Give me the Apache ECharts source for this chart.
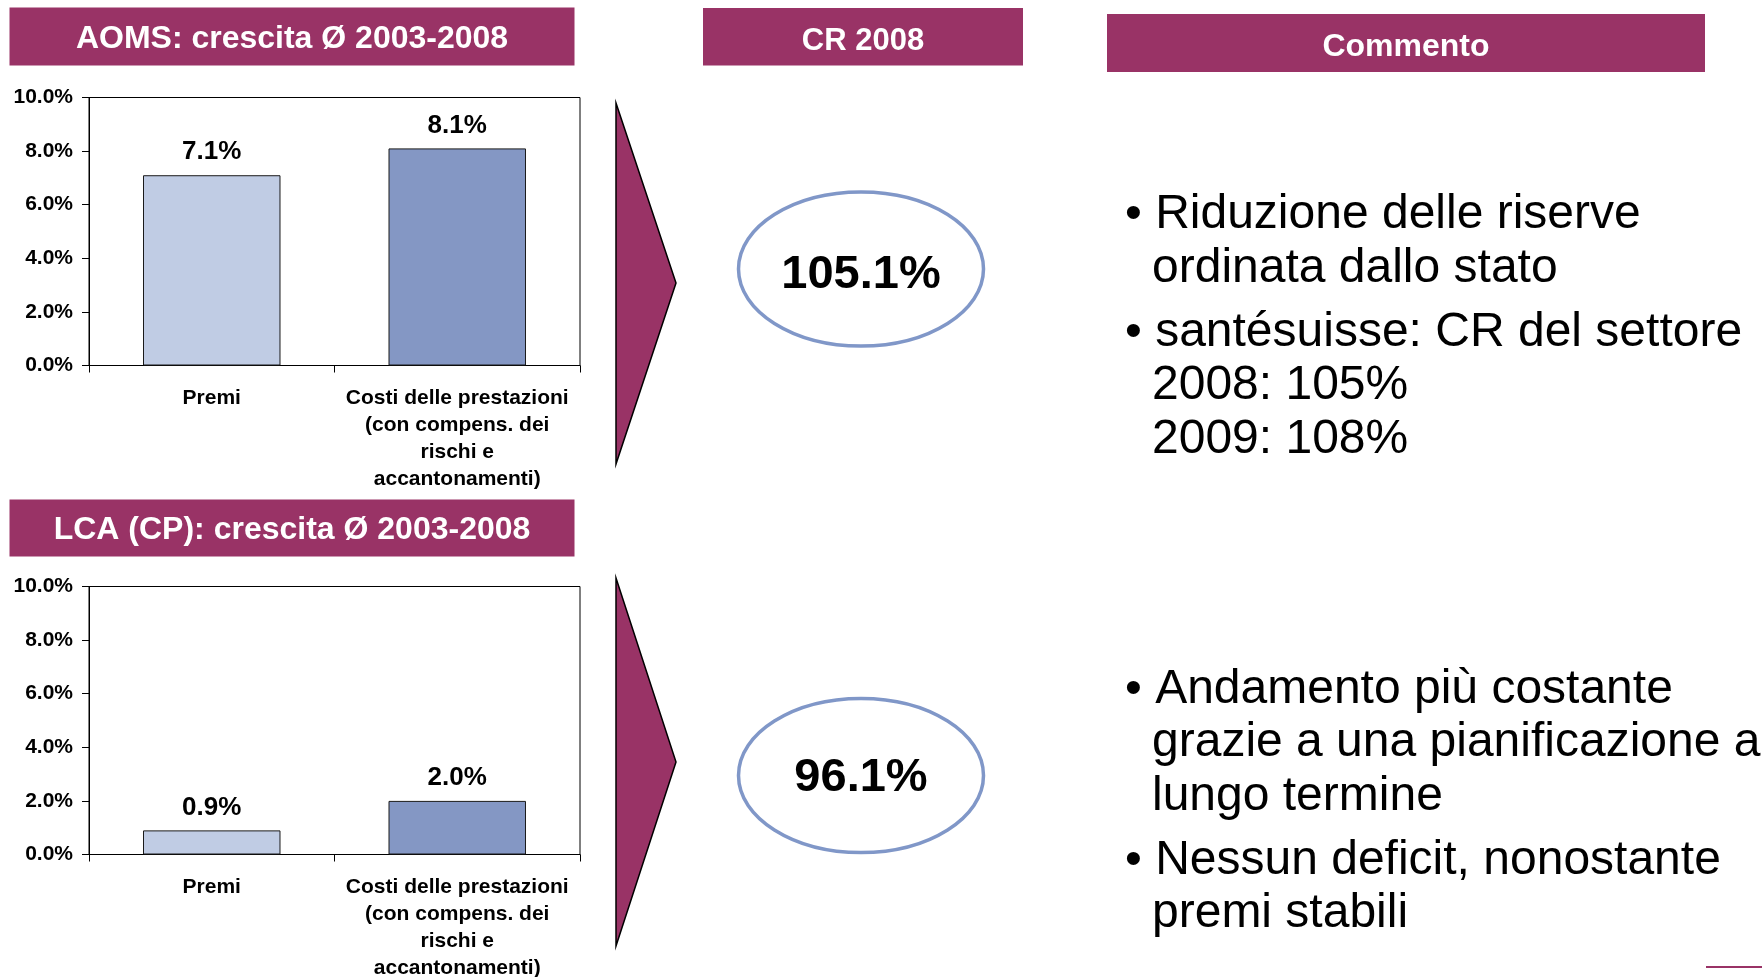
<!DOCTYPE html>
<html>
<head>
<meta charset="utf-8">
<script src="https://cdn.jsdelivr.net/npm/echarts@6/dist/echarts.min.js"></script>
<style>
  html, body { margin: 0; padding: 0; background: #fff; }
  #chart { width: 1762px; height: 977px; }
</style>
</head>
<body>
<div id="chart"></div>
<script>
// dati
const categories = ['Premi', 'Costi delle prestazioni\n(con compens. dei\nrischi e\naccantonamenti)'];
const aomsGrowth = [7.1, 8.1];   // AOMS crescita media 2003-2008 (%)
const lcaGrowth = [0.9, 2.0];    // LCA (CP) crescita media 2003-2008 (%)
const crValues = [105.1, 96.1];  // CR 2008 (%)
const yMin = 0, yMax = 10, yStep = 2;
const panelTitles = ['AOMS: crescita Ø 2003-2008', 'LCA (CP): crescita Ø 2003-2008'];
const headerTitles = ['CR 2008', 'Commento'];
const commentTop = [
  ['Riduzione delle riserve', 'ordinata dallo stato'],
  ['santésuisse: CR del settore', '2008: 105%', '2009: 108%']
];
const commentBottom = [
  ['Andamento più costante', 'grazie a una pianificazione a', 'lungo termine'],
  ['Nessun deficit, nonostante', 'premi stabili']
];

const FONT = '"Liberation Sans", Arial, Helvetica, sans-serif';
const MAROON = '#993366';
const barColors = ['#c0cce4', '#8497c4'];
const ELLIPSE_BLUE = '#8097c8';

let chart = echarts.init(document.getElementById('chart'));

// grafici a barre (due griglie)
const gridTops = [97.5, 586.5];
function makeGrid(top) {
  return {
    left: 89, top: top, width: 491, height: 268,
    show: true, borderColor: '#000', borderWidth: 1,
    outerBoundsMode: 'none', containLabel: false
  };
}
function makeX(i) {
  return {
    type: 'category', gridIndex: i, data: categories,
    axisLine: { lineStyle: { color: '#000', width: 1 } },
    axisTick: { show: true, length: 7, alignWithLabel: false, lineStyle: { color: '#000' } },
    axisLabel: {
      interval: 0, margin: 19, color: '#000', fontFamily: FONT,
      fontSize: 21, fontWeight: 'bold', lineHeight: 27, align: 'center'
    },
    splitLine: { show: false }
  };
}
function makeY(i) {
  return {
    type: 'value', gridIndex: i, min: yMin, max: yMax, interval: yStep,
    axisLine: { show: true, lineStyle: { color: '#000', width: 1 } },
    axisTick: { show: true, length: 7, lineStyle: { color: '#000' } },
    axisLabel: {
      margin: 16, color: '#000', fontFamily: FONT, fontSize: 21, fontWeight: 'bold',
      formatter: v => v.toFixed(1) + '%'
    },
    splitLine: { show: false }
  };
}
function makeBars(i, values) {
  return {
    type: 'bar', xAxisIndex: i, yAxisIndex: i, barWidth: '56%',
    data: values.map((v, k) => ({ value: v, itemStyle: { color: barColors[k] } })),
    itemStyle: { borderColor: '#1a1a1a', borderWidth: 1 },
    label: {
      show: true, position: 'top', distance: 10, color: '#000',
      fontFamily: FONT, fontSize: 26, fontWeight: 'bold',
      formatter: p => p.value.toFixed(1) + '%'
    }
  };
}

// elementi grafici: intestazioni, frecce, ellissi, commenti
let graphics = [];
function headerBar(x, y, w, h, text, fontSize, ty) {
  graphics.push({ type: 'rect', shape: { x: x, y: y, width: w, height: h }, style: { fill: MAROON }, silent: true });
  graphics.push({
    type: 'text', x: x + w / 2, y: ty, silent: true,
    style: { text: text, fill: '#fff', font: 'bold ' + fontSize + 'px ' + FONT, align: 'center', verticalAlign: 'middle', textAlign: 'center', textVerticalAlign: 'middle' }
  });
}
headerBar(9.5, 7.5, 565, 58, panelTitles[0], 32, 39.5);
headerBar(9.5, 499.5, 565, 57, panelTitles[1], 32, 530);
headerBar(703, 8, 320, 57.5, headerTitles[0], 31, 41);
headerBar(1107, 14, 598, 58, headerTitles[1], 32, 47.5);

// frecce
const arrows = [[[616, 103], [676, 283], [616, 464]], [[616, 578], [676, 762], [616, 946]]];
arrows.forEach(pts => {
  graphics.push({ type: 'polygon', shape: { points: pts }, style: { fill: MAROON, stroke: '#000', lineWidth: 1.5 }, silent: true });
});

// ellissi CR
const ellipseCy = [269, 775.5];
const crTextY = [275, 778.5];
crValues.forEach((v, i) => {
  graphics.push({ type: 'ellipse', shape: { cx: 861, cy: ellipseCy[i], rx: 122.5, ry: 77 }, style: { fill: '#fff', stroke: ELLIPSE_BLUE, lineWidth: 3.5 }, silent: true });
  graphics.push({
    type: 'text', x: 861, y: crTextY[i], silent: true,
    style: { text: v.toFixed(1) + '%', fill: '#000', font: 'bold 47px ' + FONT, align: 'center', verticalAlign: 'middle', textAlign: 'center', textVerticalAlign: 'middle' }
  });
});

// commenti puntati
function bulletBlock(paras, startY) {
  let y = startY;
  paras.forEach(lines => {
    lines.forEach((line, k) => {
      graphics.push({
        type: 'text', x: k === 0 ? 1125 : 1152, y: y, silent: true,
        style: { text: (k === 0 ? '• ' : '') + line, fill: '#000', font: '48px ' + FONT, align: 'left', verticalAlign: 'middle', textAlign: 'left', textVerticalAlign: 'middle' }
      });
      y += 53.5;
    });
    y += 10.5;
  });
}
bulletBlock(commentTop, 215);
bulletBlock(commentBottom, 689.5);

// linea in basso a destra
graphics.push({ type: 'line', shape: { x1: 1706, y1: 967, x2: 1762, y2: 967 }, style: { stroke: MAROON, lineWidth: 2 }, silent: true });

chart.setOption({
  animation: false,
  backgroundColor: '#fff',
  grid: gridTops.map(makeGrid),
  xAxis: [makeX(0), makeX(1)],
  yAxis: [makeY(0), makeY(1)],
  series: [makeBars(0, aomsGrowth), makeBars(1, lcaGrowth)],
  graphic: { elements: graphics }
});
</script>
</body>
</html>
